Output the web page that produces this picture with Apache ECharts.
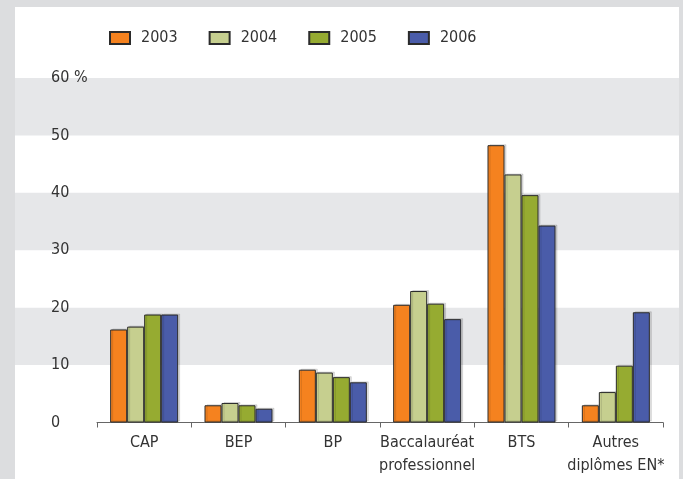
<!DOCTYPE html>
<html>
<head>
<meta charset="utf-8">
<script src="https://cdn.jsdelivr.net/npm/echarts@6/dist/echarts.min.js"></script>
<style>
html,body{margin:0;padding:0;width:683px;height:479px;background:#dcdddf;overflow:hidden;}
#panel{position:absolute;left:15px;top:7px;width:664px;height:480px;background:#ffffff;}
#chart{position:absolute;left:0;top:0;width:683px;height:479px;}
</style>
</head>
<body>
<div id="panel"></div>
<div id="chart"></div>
<script>
const categories = ['CAP', 'BEP', 'BP', 'Baccalauréat\nprofessionnel', 'BTS', 'Autres\ndiplômes EN*'];
const seriesNames = ['2003', '2004', '2005', '2006'];
const values2003 = [16.2, 3.0, 9.2, 20.5, 48.3, 3.0];
const values2004 = [16.7, 3.4, 8.7, 22.9, 43.2, 5.3];
const values2005 = [18.8, 3.0, 7.9, 20.7, 39.6, 9.9];
const values2006 = [18.8, 2.4, 7.0, 18.0, 34.3, 19.2];
const yTicks = [0, 10, 20, 30, 40, 50, 60];
const yUnit = ' %';

const colors = ['#f5821f', '#c6cf8f', '#96ab31', '#4a5ca9'];
const allValues = [values2003, values2004, values2005, values2006];
const FONT = '"DejaVu Sans Condensed", "Liberation Sans", sans-serif';
const FS = 16;

const chart = echarts.init(document.getElementById('chart'), null, {renderer: 'canvas'});
const gridTop = 78, gridBottom = 56.5;
const yMax = yTicks[yTicks.length - 1];
const yInterval = yTicks[1] - yTicks[0];

const option = {
  animation: false,
  textStyle: {fontFamily: FONT},
  legend: {
    data: seriesNames,
    left: 109,
    top: 30,
    padding: 0,
    itemWidth: 20,
    itemHeight: 12,
    itemGap: 31,
    icon: 'rect',
    textStyle: {fontFamily: FONT, fontSize: FS, color: '#333', padding: [0, 0, 0, 6]}
  },
  grid: [
    {left: 15, right: 4, top: gridTop, bottom: gridBottom},
    {left: 97, right: 20, top: gridTop, bottom: gridBottom}
  ],
  xAxis: [
    {gridIndex: 0, type: 'value', show: false, min: 0, max: 1},
    {
      gridIndex: 1, type: 'category', data: categories,
      axisLine: {lineStyle: {color: '#666', width: 1}},
      axisTick: {show: true, length: 5, lineStyle: {color: '#666'}},
      axisLabel: {interval: 0, margin: 9, fontFamily: FONT, fontSize: FS, color: '#333', lineHeight: 23}
    }
  ],
  yAxis: [
    {
      gridIndex: 0, type: 'value', min: 0, max: yMax, interval: yInterval,
      axisLine: {show: false}, axisTick: {show: false}, axisLabel: {show: false},
      splitLine: {show: false},
      splitArea: {show: true, areaStyle: {color: ['rgba(255,255,255,0)', '#e6e7e9']}}
    },
    {
      gridIndex: 1, type: 'value', min: 0, max: yMax, interval: yInterval,
      axisLine: {show: false}, axisTick: {show: false}, splitLine: {show: false},
      axisLabel: {
        align: 'left', margin: 46, fontFamily: FONT, fontSize: FS, color: '#333',
        formatter: v => (v === yMax ? v + yUnit : String(v))
      }
    }
  ],
  series: seriesNames.map((name, i) => ({
    name: name,
    type: 'bar',
    xAxisIndex: 1,
    yAxisIndex: 1,
    data: allValues[i],
    barWidth: 17,
    barGap: '0%',
    itemStyle: {
      color: colors[i],
      borderColor: '#2b2b2b',
      borderWidth: 1,
      shadowColor: 'rgba(0,0,0,0.12)',
      shadowOffsetX: 2,
      shadowOffsetY: -1,
      shadowBlur: 0
    }
  }))
};
chart.setOption(option);
</script>
</body>
</html>
